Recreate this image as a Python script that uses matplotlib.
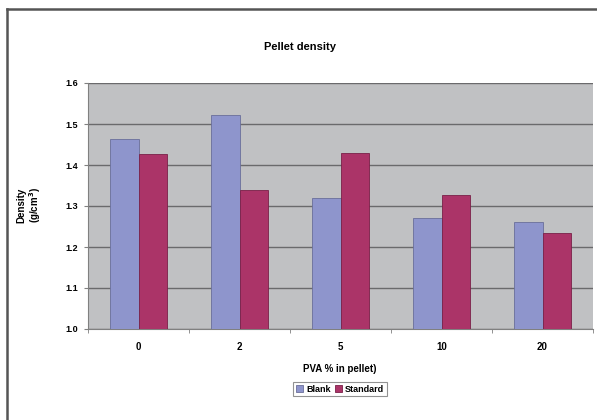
import numpy as np
import matplotlib
matplotlib.use("Agg")
from matplotlib import pyplot as plt
from matplotlib.lines import Line2D

categories = ["0", "2", "5", "10", "20"]
blank = [1.464, 1.521, 1.319, 1.270, 1.262]
standard = [1.428, 1.338, 1.429, 1.326, 1.235]
yticks = [1.0, 1.1, 1.2, 1.3, 1.4, 1.5, 1.6]

plt.rcParams['font.family'] = ['Liberation Sans', 'DejaVu Sans']
plt.rcParams['font.weight'] = 'bold'

fig = plt.figure(figsize=(5.97, 4.2), dpi=100)
ax = fig.add_axes([88 / 597, 1 - 329 / 420, 505 / 597, 246 / 420])
ax.set_facecolor('#c0c1c3')

x = np.arange(len(categories))
w = 1 / 3.5
ax.bar(x - w / 2, blank, w, color='#8e95cc', edgecolor='#6a6f9a', linewidth=0.6, label='Blank', zorder=3)
ax.bar(x + w / 2, standard, w, color='#ab3468', edgecolor='#7a2048', linewidth=0.6, label='Standard', zorder=3)

ax.set_xlim(-0.5, len(categories) - 0.5)
ax.set_ylim(1.0, 1.6)
ax.set_yticks(yticks)
ax.set_yticklabels(["%.1f" % t for t in yticks], fontsize=6.5)
ax.set_xticks(x)
ax.set_xticklabels(categories, fontsize=7)
ax.set_xticks(np.arange(len(categories) + 1) - 0.5, minor=True)
ax.tick_params(axis='x', which='major', length=0, pad=9)
ax.tick_params(axis='x', which='minor', length=3, color='#808080')
ax.tick_params(axis='y', length=3, color='#808080', pad=4)
ax.grid(axis='y', color='#6a6a6c', linewidth=1.0, zorder=1)
for s in ['top', 'right']:
    ax.spines[s].set_visible(False)
ax.spines['left'].set_color('#808080')
ax.spines['bottom'].set_color('#808080')

fig.text(300 / 597, 1 - 47 / 420, "Pellet density", ha='center', va='center', fontsize=8)
fig.text(340 / 597, 1 - 369 / 420, "PVA % in pellet)", ha='center', va='center', fontsize=7)
fig.text(30 / 597, 1 - 205 / 420, "Density\n(g/cm$^3$)", ha='center', va='center',
         rotation=90, fontsize=7, linespacing=1.1)

leg = fig.legend(loc='center', bbox_to_anchor=(340 / 597, 1 - 389 / 420), ncol=2, fontsize=6.5,
                 frameon=True, fancybox=False, handlelength=0.8, handleheight=0.8,
                 handletextpad=0.3, columnspacing=0.5, borderpad=0.3, borderaxespad=0)
leg.get_frame().set_edgecolor('#777777')
leg.get_frame().set_linewidth(0.8)

fig.add_artist(Line2D([7 / 597, 7 / 597], [0, 1 - 9 / 420], color='#555555', linewidth=1.8))
fig.add_artist(Line2D([7 / 597, 1], [1 - 9 / 420, 1 - 9 / 420], color='#555555', linewidth=1.8))

fig.savefig("out.png", dpi=100)
